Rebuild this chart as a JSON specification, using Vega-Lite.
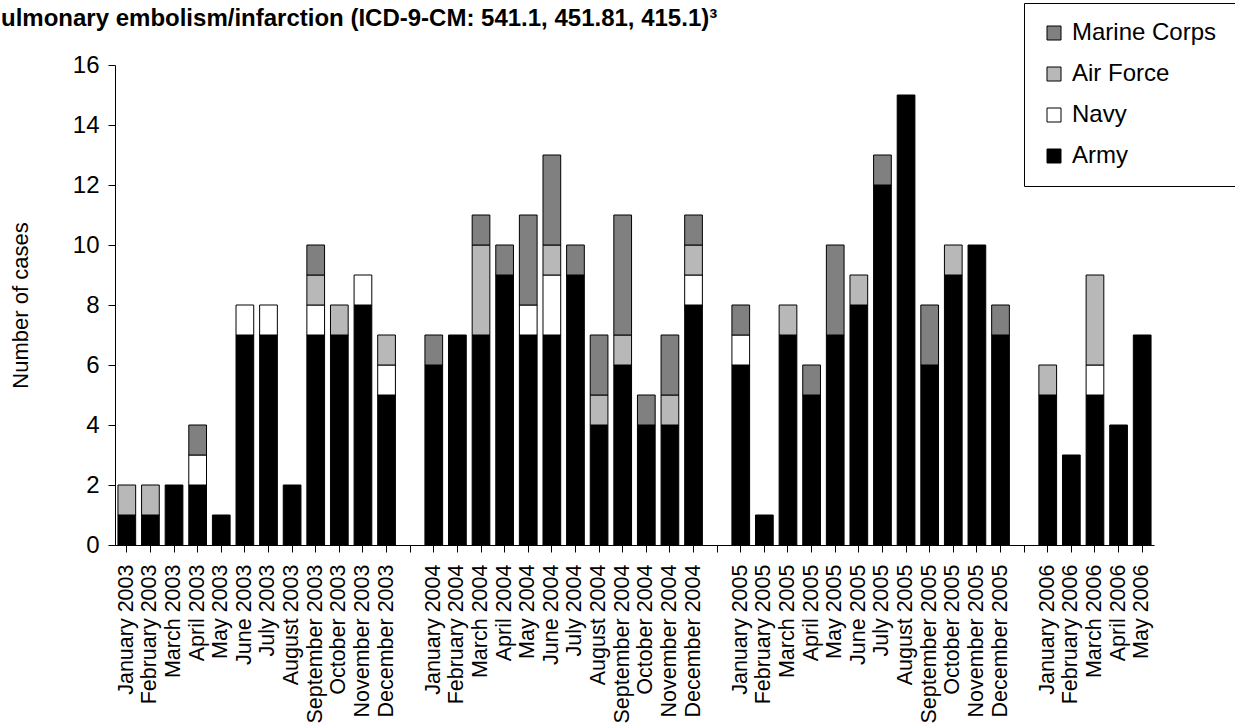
{
  "$schema": "https://vega.github.io/schema/vega-lite/v6.json",
  "width": 1039,
  "height": 480,
  "autosize": {"type": "none"},
  "padding": {"left": 115, "top": 65, "right": 81, "bottom": 180},
  "background": "white",
  "config": {"font": "Liberation Sans", "view": {"stroke": null}},
  "title": {
    "text": "ulmonary embolism/infarction (ICD-9-CM: 541.1, 451.81, 415.1)³",
    "anchor": "start",
    "frame": "group",
    "fontSize": 24,
    "fontWeight": "bold",
    "color": "black",
    "offset": 0,
    "dx": -114,
    "dy": 28
  },
  "data": {
    "values": [
      {"m": "January 2003", "s": "Army", "n": 1}, {"m": "January 2003", "s": "Air Force", "n": 1},
      {"m": "February 2003", "s": "Army", "n": 1}, {"m": "February 2003", "s": "Air Force", "n": 1},
      {"m": "March 2003", "s": "Army", "n": 2},
      {"m": "April 2003", "s": "Army", "n": 2}, {"m": "April 2003", "s": "Navy", "n": 1}, {"m": "April 2003", "s": "Marine Corps", "n": 1},
      {"m": "May 2003", "s": "Army", "n": 1},
      {"m": "June 2003", "s": "Army", "n": 7}, {"m": "June 2003", "s": "Navy", "n": 1},
      {"m": "July 2003", "s": "Army", "n": 7}, {"m": "July 2003", "s": "Navy", "n": 1},
      {"m": "August 2003", "s": "Army", "n": 2},
      {"m": "September 2003", "s": "Army", "n": 7}, {"m": "September 2003", "s": "Navy", "n": 1}, {"m": "September 2003", "s": "Air Force", "n": 1}, {"m": "September 2003", "s": "Marine Corps", "n": 1},
      {"m": "October 2003", "s": "Army", "n": 7}, {"m": "October 2003", "s": "Air Force", "n": 1},
      {"m": "November 2003", "s": "Army", "n": 8}, {"m": "November 2003", "s": "Navy", "n": 1},
      {"m": "December 2003", "s": "Army", "n": 5}, {"m": "December 2003", "s": "Navy", "n": 1}, {"m": "December 2003", "s": "Air Force", "n": 1},
      {"m": "January 2004", "s": "Army", "n": 6}, {"m": "January 2004", "s": "Marine Corps", "n": 1},
      {"m": "February 2004", "s": "Army", "n": 7},
      {"m": "March 2004", "s": "Army", "n": 7}, {"m": "March 2004", "s": "Air Force", "n": 3}, {"m": "March 2004", "s": "Marine Corps", "n": 1},
      {"m": "April 2004", "s": "Army", "n": 9}, {"m": "April 2004", "s": "Marine Corps", "n": 1},
      {"m": "May 2004", "s": "Army", "n": 7}, {"m": "May 2004", "s": "Navy", "n": 1}, {"m": "May 2004", "s": "Marine Corps", "n": 3},
      {"m": "June 2004", "s": "Army", "n": 7}, {"m": "June 2004", "s": "Navy", "n": 2}, {"m": "June 2004", "s": "Air Force", "n": 1}, {"m": "June 2004", "s": "Marine Corps", "n": 3},
      {"m": "July 2004", "s": "Army", "n": 9}, {"m": "July 2004", "s": "Marine Corps", "n": 1},
      {"m": "August 2004", "s": "Army", "n": 4}, {"m": "August 2004", "s": "Air Force", "n": 1}, {"m": "August 2004", "s": "Marine Corps", "n": 2},
      {"m": "September 2004", "s": "Army", "n": 6}, {"m": "September 2004", "s": "Air Force", "n": 1}, {"m": "September 2004", "s": "Marine Corps", "n": 4},
      {"m": "October 2004", "s": "Army", "n": 4}, {"m": "October 2004", "s": "Marine Corps", "n": 1},
      {"m": "November 2004", "s": "Army", "n": 4}, {"m": "November 2004", "s": "Air Force", "n": 1}, {"m": "November 2004", "s": "Marine Corps", "n": 2},
      {"m": "December 2004", "s": "Army", "n": 8}, {"m": "December 2004", "s": "Navy", "n": 1}, {"m": "December 2004", "s": "Air Force", "n": 1}, {"m": "December 2004", "s": "Marine Corps", "n": 1},
      {"m": "January 2005", "s": "Army", "n": 6}, {"m": "January 2005", "s": "Navy", "n": 1}, {"m": "January 2005", "s": "Marine Corps", "n": 1},
      {"m": "February 2005", "s": "Army", "n": 1},
      {"m": "March 2005", "s": "Army", "n": 7}, {"m": "March 2005", "s": "Air Force", "n": 1},
      {"m": "April 2005", "s": "Army", "n": 5}, {"m": "April 2005", "s": "Marine Corps", "n": 1},
      {"m": "May 2005", "s": "Army", "n": 7}, {"m": "May 2005", "s": "Marine Corps", "n": 3},
      {"m": "June 2005", "s": "Army", "n": 8}, {"m": "June 2005", "s": "Air Force", "n": 1},
      {"m": "July 2005", "s": "Army", "n": 12}, {"m": "July 2005", "s": "Marine Corps", "n": 1},
      {"m": "August 2005", "s": "Army", "n": 15},
      {"m": "September 2005", "s": "Army", "n": 6}, {"m": "September 2005", "s": "Marine Corps", "n": 2},
      {"m": "October 2005", "s": "Army", "n": 9}, {"m": "October 2005", "s": "Air Force", "n": 1},
      {"m": "November 2005", "s": "Army", "n": 10},
      {"m": "December 2005", "s": "Army", "n": 7}, {"m": "December 2005", "s": "Marine Corps", "n": 1},
      {"m": "January 2006", "s": "Army", "n": 5}, {"m": "January 2006", "s": "Air Force", "n": 1},
      {"m": "February 2006", "s": "Army", "n": 3},
      {"m": "March 2006", "s": "Army", "n": 5}, {"m": "March 2006", "s": "Navy", "n": 1}, {"m": "March 2006", "s": "Air Force", "n": 3},
      {"m": "April 2006", "s": "Army", "n": 4},
      {"m": "May 2006", "s": "Army", "n": 7}
    ]
  },
  "transform": [
    {"stack": "n", "groupby": ["m"], "as": ["y0", "y1"]}
  ],
  "mark": {"type": "bar", "stroke": "black", "strokeWidth": 1},
  "encoding": {
    "x": {
      "field": "m",
      "type": "nominal",
      "sort": null,
      "scale": {
        "domain": ["January 2003","February 2003","March 2003","April 2003","May 2003","June 2003","July 2003","August 2003","September 2003","October 2003","November 2003","December 2003"," ",
                   "January 2004","February 2004","March 2004","April 2004","May 2004","June 2004","July 2004","August 2004","September 2004","October 2004","November 2004","December 2004","  ",
                   "January 2005","February 2005","March 2005","April 2005","May 2005","June 2005","July 2005","August 2005","September 2005","October 2005","November 2005","December 2005","   ",
                   "January 2006","February 2006","March 2006","April 2006","May 2006"],
        "paddingInner": 0.25,
        "paddingOuter": 0.125
      },
      "axis": {
        "title": null,
        "labelAngle": 270,
        "labelFontSize": 21.5,
        "labelColor": "black",
        "labelPadding": 12,
        "tickSize": 7,
        "tickColor": "black",
        "domainColor": "black",
        "labelOverlap": false,
        "grid": false
      }
    },
    "y": {
      "field": "y0",
      "type": "quantitative",
      "scale": {"domain": [0, 16], "nice": false},
      "axis": {
        "title": "Number of cases",
        "titleFontSize": 22,
        "titleFontWeight": "normal",
        "titleColor": "black",
        "titlePadding": 40,
        "values": [0, 2, 4, 6, 8, 10, 12, 14, 16],
        "labelFontSize": 24,
        "labelColor": "black",
        "labelPadding": 9,
        "tickSize": 7,
        "tickColor": "black",
        "domainColor": "black",
        "grid": false
      }
    },
    "y2": {"field": "y1"},
    "fill": {
      "field": "s",
      "type": "nominal",
      "sort": ["Marine Corps", "Air Force", "Navy", "Army"],
      "scale": {
        "domain": ["Marine Corps", "Air Force", "Navy", "Army"],
        "range": ["#808080", "#b8b8b8", "white", "black"]
      },
      "legend": {
        "title": null,
        "orient": "none",
        "legendX": 909,
        "legendY": -62,
        "direction": "vertical",
        "symbolType": "square",
        "symbolSize": 196,
        "symbolStrokeColor": "black",
        "symbolStrokeWidth": 1,
        "labelFontSize": 24,
        "labelColor": "black",
        "labelOffset": 6,
        "labelLimit": 300,
        "rowPadding": 17,
        "padding": 18,
        "strokeColor": "black",
        "fillColor": "white"
      }
    }
  }
}
